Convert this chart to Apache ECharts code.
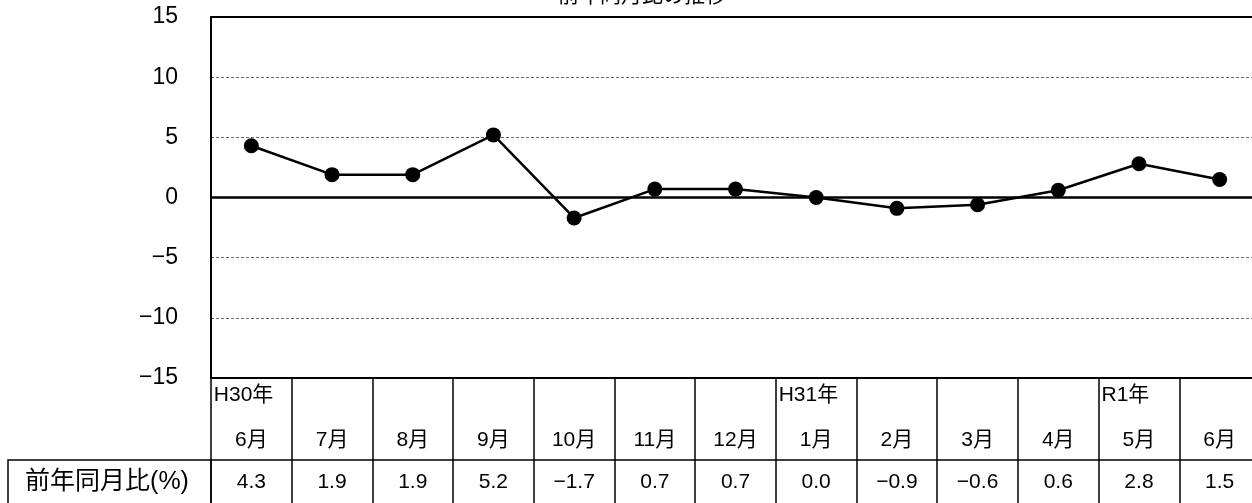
<!DOCTYPE html>
<html lang="ja">
  <head>
    <meta charset="UTF-8" />
    <title>前年同月比の推移</title>
    <script src="https://cdn.jsdelivr.net/npm/echarts@6/dist/echarts.min.js"></script>
    <style>
      html, body { margin: 0; padding: 0; background: #fff; }
    </style>
  </head>
  <body>
    <div id="chart" style="width: 1252px; height: 503px"></div>
  </body>
  <script>
    // 年ラベル（空欄は年表示なし）
    const years = ['H30年', '', '', '', '', '', '', 'H31年', '', '', '', 'R1年', '']
    const months = ['6月', '7月', '8月', '9月', '10月', '11月', '12月', '1月', '2月', '3月', '4月', '5月', '6月']
    // 前年同月比(%)
    const values = [4.3, 1.9, 1.9, 5.2, -1.7, 0.7, 0.7, 0.0, -0.9, -0.6, 0.6, 2.8, 1.5]
    const yTicks = { min: -15, max: 15, interval: 5 }

    const jpFont = '"Liberation Sans", "Noto Sans CJK JP", sans-serif'
    const minus = v => (v < 0 ? '\u2212' + Math.abs(v) : String(v))
    const fmt1 = v => (v < 0 ? '\u2212' + Math.abs(v).toFixed(1) : v.toFixed(1))

    const chart = echarts.init(document.getElementById('chart'))

    const gridColors = []
    for (let v = yTicks.min; v <= yTicks.max; v += yTicks.interval) {
      // 上下端と0の線は別に描くので補助線は透明に
      gridColors.push(v === yTicks.min || v === yTicks.max || v === 0 ? 'rgba(0,0,0,0)' : '#666')
    }

    const option = {
      animation: false,
      title: {
        text: '前年同月比の推移',
        left: 637,
        textAlign: 'center',
        top: -19,
        textStyle: { fontFamily: jpFont, fontSize: 21, fontWeight: 'normal', color: '#000' }
      },
      grid: { left: 211, top: 17, width: 1049, height: 361, outerBoundsMode: 'none', containLabel: false },
      xAxis: [
        {
          type: 'category',
          position: 'bottom',
          data: months,
          axisLine: { onZero: false, lineStyle: { color: '#000', width: 2 } },
          axisTick: { show: true, length: 126, lineStyle: { color: '#000', width: 1.5 } },
          axisLabel: {
            margin: 0,
            interval: 0,
            formatter: (m, i) => '{y|' + (years[i] || ' ') + '}\n{m|' + m + '}',
            rich: {
              y: { fontFamily: jpFont, fontSize: 21, color: '#000', lineHeight: 34, width: 80, align: 'left', padding: [0, 0, 0, 5] },
              m: { fontFamily: jpFont, fontSize: 21, color: '#000', lineHeight: 56, width: 80, align: 'center' }
            }
          }
        },
        {
          type: 'category',
          position: 'bottom',
          offset: 82,
          data: values.map(fmt1),
          axisLine: { onZero: false, lineStyle: { color: '#000', width: 1.5 } },
          axisTick: { show: false },
          axisLabel: { margin: 12, interval: 0, fontFamily: jpFont, fontSize: 21, color: '#000' }
        },
        {
          type: 'category',
          position: 'top',
          data: months,
          axisLine: { onZero: false, lineStyle: { color: '#000', width: 2 } },
          axisTick: { show: false },
          axisLabel: { show: false }
        }
      ],
      yAxis: {
        type: 'value',
        min: yTicks.min,
        max: yTicks.max,
        interval: yTicks.interval,
        axisLine: { show: true, lineStyle: { color: '#000', width: 2 } },
        axisTick: { show: false },
        axisLabel: {
          margin: 33,
          fontFamily: '"Liberation Sans", Arial, sans-serif',
          fontSize: 23,
          color: '#000',
          formatter: minus
        },
        splitLine: { show: true, lineStyle: { color: gridColors, type: [3, 2], width: 1 } }
      },
      graphic: [
        {
          type: 'rect',
          shape: { x: 8, y: 460, width: 203, height: 60 },
          style: { fill: 'none', stroke: '#000', lineWidth: 1.5 }
        },
        {
          type: 'text',
          x: 107,
          y: 482,
          style: {
            text: '前年同月比(%)',
            fontFamily: jpFont,
            fontSize: 25,
            fill: '#000',
            align: 'center',
            verticalAlign: 'middle'
          }
        }
      ],
      series: [
        {
          type: 'line',
          data: values,
          symbol: 'circle',
          symbolSize: 15,
          itemStyle: { color: '#000' },
          lineStyle: { color: '#000', width: 2.5 },
          markLine: {
            silent: true,
            symbol: 'none',
            label: { show: false },
            lineStyle: { color: '#000', width: 2.5, type: 'solid' },
            data: [{ yAxis: 0 }]
          },
          z: 3
        }
      ]
    }

    chart.setOption(option)
  </script>
</html>
